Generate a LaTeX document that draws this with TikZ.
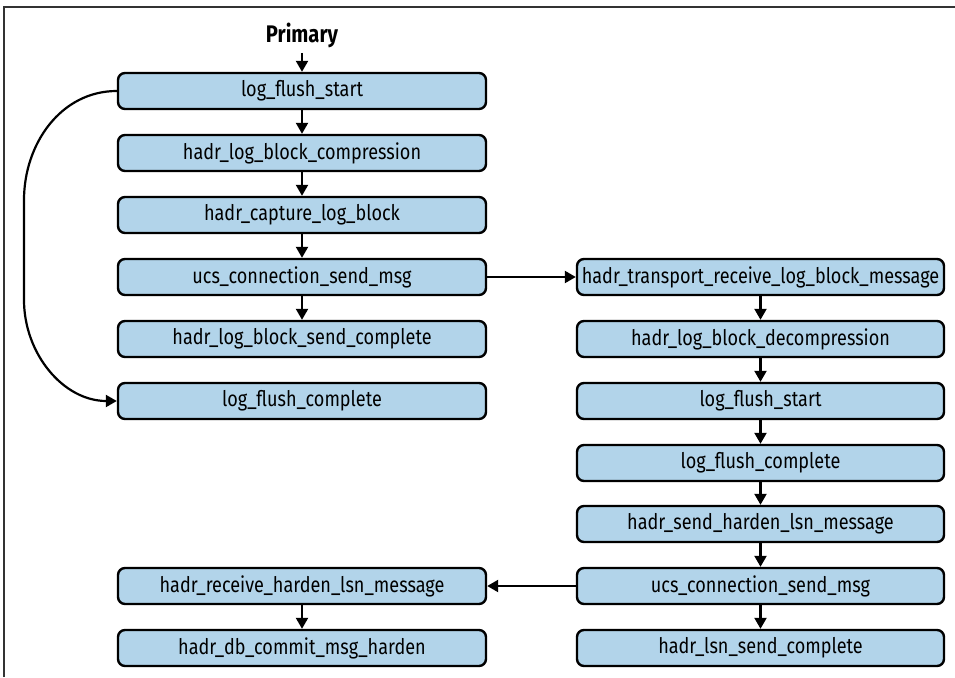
\documentclass[tikz,border=0pt]{standalone}
\usepackage{fontspec}
\setmainfont{Fira Sans}[FakeStretch=0.84]
\usetikzlibrary{arrows.meta}
\definecolor{boxblue}{RGB}{178,212,234}
\tikzset{
  stepbox/.style={draw=black, line width=2.4pt, fill=boxblue, rounded corners=7pt,
    minimum height=36pt, inner sep=0pt, font=\fontsize{21.5}{24}\selectfont},
  lbox/.style={stepbox, minimum width=368pt},
  rbox/.style={stepbox, minimum width=367pt},
  conn/.style={line width=2.2pt, -{Triangle[length=11pt,width=12pt]}},
}
\begin{document}
\begin{tikzpicture}[x=1pt,y=-1pt]
\useasboundingbox (0,0) rectangle (955,677);
\draw[line width=1.4pt, draw=black!80] (4,677) -- (4,7) -- (955,7);
\node[font=\fontseries{sb}\selectfont\fontsize{24}{28}\selectfont] (prim) at (302,35) {Primary};
% left column
\node[lbox] (l1) at (302,91) {log\_flush\_start};
\node[lbox] (l2) at (302,153) {hadr\_log\_block\_compression};
\node[lbox] (l3) at (302,215) {hadr\_capture\_log\_block};
\node[lbox] (l4) at (302,277) {ucs\_connection\_send\_msg};
\node[lbox] (l5) at (302,339) {hadr\_log\_block\_send\_complete};
\node[lbox] (l6) at (302,401) {log\_flush\_complete};
\node[lbox] (l7) at (302,586) {hadr\_receive\_harden\_lsn\_message};
\node[lbox] (l8) at (302,648) {hadr\_db\_commit\_msg\_harden};
% right column
\node[rbox] (r1) at (760.5,277) {hadr\_transport\_receive\_log\_block\_message};
\node[rbox] (r2) at (760.5,339) {hadr\_log\_block\_decompression};
\node[rbox] (r3) at (760.5,401) {log\_flush\_start};
\node[rbox] (r4) at (760.5,463) {log\_flush\_complete};
\node[rbox] (r5) at (760.5,524) {hadr\_send\_harden\_lsn\_message};
\node[rbox] (r6) at (760.5,586) {ucs\_connection\_send\_msg};
\node[rbox] (r7) at (760.5,648) {hadr\_lsn\_send\_complete};
% connectors
\draw[conn] (prim.south) ++(0,2) coordinate (pa) (pa) -- (l1.north);
\draw[conn] (l1) -- (l2);
\draw[conn] (l2) -- (l3);
\draw[conn] (l3) -- (l4);
\draw[conn] (l4) -- (l5);
\draw[conn] (l7) -- (l8);
\draw[conn] (l4) -- (r1);
\draw[conn] (r1) -- (r2);
\draw[conn] (r2) -- (r3);
\draw[conn] (r3) -- (r4);
\draw[conn] (r4) -- (r5);
\draw[conn] (r5) -- (r6);
\draw[conn] (r6) -- (r7);
\draw[conn] (r6) -- (l7);
\coordinate (c1) at (24,200);
\coordinate (c2) at (24,300);
\draw[conn] (l1.west) to[out=180,in=90] (c1) -- (c2) to[out=-90,in=180] (l6.west);
\end{tikzpicture}
\end{document}
